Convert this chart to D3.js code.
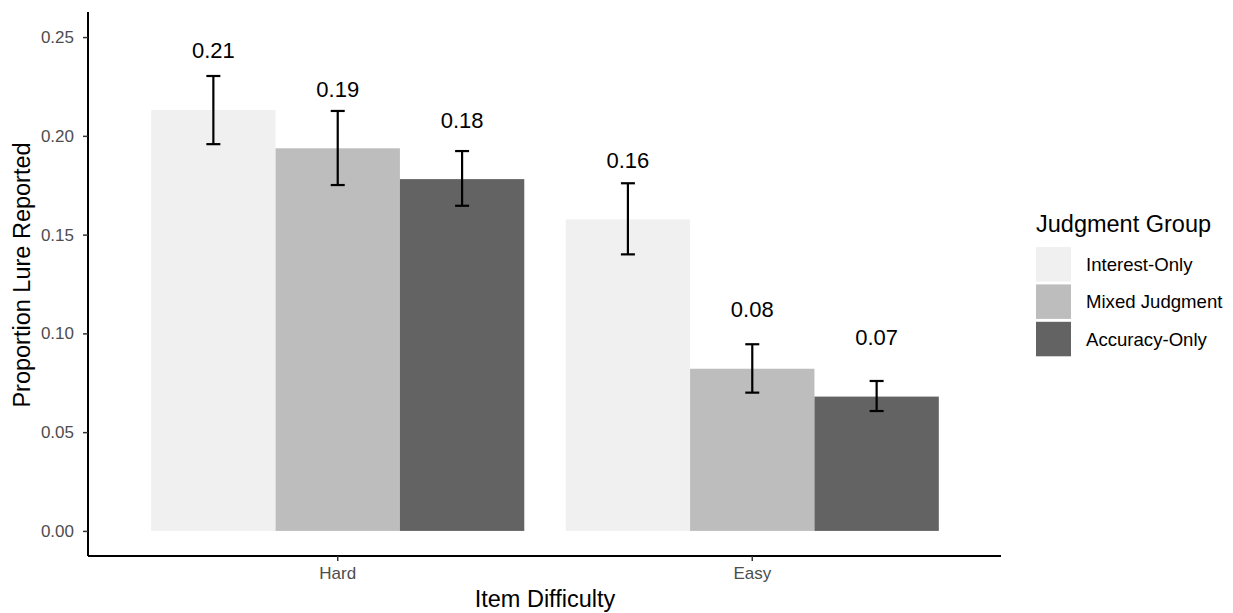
<!DOCTYPE html>
<html>
<head>
<meta charset="utf-8">
<script src="https://cdn.jsdelivr.net/npm/d3@7.9.0/dist/d3.min.js"></script>
<style>
  body { margin: 0; background: #fff; }
  svg { display: block; font-family: "Liberation Sans", Arial, Helvetica, sans-serif; }
</style>
</head>
<body>
<div id="chart"></div>
<script>
const difficulties = ["Hard", "Easy"];
const groups = ["Interest-Only", "Mixed Judgment", "Accuracy-Only"];
const groupColors = ["#f0f0f0", "#bdbdbd", "#636363"];

// mean, lower, upper per difficulty (same order as groups)
const means = {
    Hard: [0.2131, 0.1937, 0.1781],
    Easy: [0.1577, 0.0821, 0.0680]
};
const lower = {
    Hard: [0.1958, 0.1751, 0.1646],
    Easy: [0.1400, 0.0700, 0.0607]
};
const upper = {
    Hard: [0.2303, 0.2126, 0.1923],
    Easy: [0.1760, 0.0945, 0.0759]
};
const yTicks = [0, 0.05, 0.10, 0.15, 0.20, 0.25];

const rows = [];
difficulties.forEach(d => groups.forEach((g, i) => rows.push({
    difficulty: d, group: g, mean: means[d][i], lo: lower[d][i], hi: upper[d][i]
})));

const width = 1233, height = 613;
const svg = d3.select("#chart").append("svg")
    .attr("width", width).attr("height", height);

const x = d3.scaleBand().domain(difficulties).range([89, 1001])
    .paddingInner(0.1).paddingOuter(0.15);
const xg = d3.scaleBand().domain(groups).range([0, x.bandwidth()]);
const y = d3.scaleLinear().domain([-0.0127, 0.2627]).range([556, 12]);
const color = d3.scaleOrdinal().domain(groups).range(groupColors);

// bars
svg.append("g").selectAll("rect").data(rows).join("rect")
    .attr("x", d => x(d.difficulty) + xg(d.group))
    .attr("width", xg.bandwidth())
    .attr("y", d => y(d.mean))
    .attr("height", d => y(0) - y(d.mean))
    .attr("fill", d => color(d.group));

// error bars
const eb = svg.append("g").attr("stroke", "#000").attr("stroke-width", 2.2);
rows.forEach(d => {
    const cx = x(d.difficulty) + xg(d.group) + xg.bandwidth() / 2;
    eb.append("line").attr("x1", cx).attr("x2", cx).attr("y1", y(d.lo)).attr("y2", y(d.hi));
    eb.append("line").attr("x1", cx - 7).attr("x2", cx + 7).attr("y1", y(d.lo)).attr("y2", y(d.lo));
    eb.append("line").attr("x1", cx - 7).attr("x2", cx + 7).attr("y1", y(d.hi)).attr("y2", y(d.hi));
});

// value labels
svg.append("g").selectAll("text").data(rows).join("text")
    .attr("x", d => x(d.difficulty) + xg(d.group) + xg.bandwidth() / 2)
    .attr("y", d => y(d.mean + 0.03))
    .attr("dy", "0.35em")
    .attr("text-anchor", "middle")
    .attr("font-size", 22)
    .attr("fill", "#000")
    .text(d => d3.format(".2f")(d.mean));

// axes
const yAxis = svg.append("g").attr("transform", "translate(88,0)")
    .call(d3.axisLeft(y).tickValues(yTicks).tickFormat(d3.format(".2f")).tickSize(5).tickPadding(9));
const xAxis = svg.append("g").attr("transform", "translate(0,556)")
    .call(d3.axisBottom(x).tickSize(5).tickPadding(6));
[yAxis, xAxis].forEach(a => {
    a.select(".domain").attr("stroke", "#000").attr("stroke-width", 2);
    a.selectAll(".tick line").attr("stroke", "#333").attr("stroke-width", 1.5);
    a.selectAll(".tick text").attr("fill", "#4d4d4d").attr("font-size", 17)
        .attr("font-family", "'Liberation Sans', Arial, sans-serif");
});
yAxis.select(".domain").attr("d", `M0,${y.range()[1]}V${y.range()[0]}`);
xAxis.select(".domain").attr("d", `M88,0H${x.range()[1]}`);

// axis titles
svg.append("text")
    .attr("transform", "translate(30,275) rotate(-90)")
    .attr("text-anchor", "middle")
    .attr("font-size", 23.5)
    .text("Proportion Lure Reported");
svg.append("text")
    .attr("x", 545).attr("y", 607)
    .attr("text-anchor", "middle")
    .attr("font-size", 23.5)
    .text("Item Difficulty");

// legend
const legend = svg.append("g").attr("transform", "translate(1036,0)");
legend.append("text").attr("x", 0).attr("y", 232).attr("font-size", 23.5).text("Judgment Group");
const keys = legend.selectAll("g.key").data(groups).join("g").attr("class", "key")
    .attr("transform", (d, i) => `translate(0,${247 + i * 37.4})`);
keys.append("rect").attr("width", 35).attr("height", 34.5).attr("fill", d => color(d));
keys.append("text").attr("x", 50).attr("y", 17.5).attr("dy", "0.35em")
    .attr("font-size", 18.6).text(d => d);
</script>
</body>
</html>
